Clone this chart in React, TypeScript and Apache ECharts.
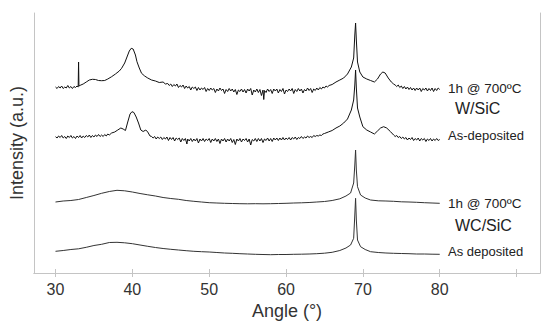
import React, { useEffect, useRef } from "react";
import * as echarts from "echarts";

// [angle (°), intensity (a.u., offset stack)]
const wsicAnnealed: [number, number][] = [
  [30.0, 186], [30.2, 184.5], [30.4, 186.5], [30.6, 185], [30.8, 187], [31.0, 184.5], [31.2, 186],
  [31.4, 185], [31.6, 187.5], [31.8, 185], [32.0, 186.5], [32.2, 184.5], [32.4, 186.5], [32.6, 185.5],
  [32.8, 187], [32.95, 186], [33.0, 211], [33.05, 187], [33.3, 188],
  [33.6, 189], [34.0, 191], [34.4, 193], [34.8, 193.7], [35.2, 193.5], [35.6, 192.5], [36.0, 192.3],
  [36.4, 192.5], [36.8, 194], [37.3, 196.3], [37.8, 199], [38.3, 202], [38.6, 204.7], [39.0, 210],
  [39.3, 216], [39.6, 222], [39.85, 224.7], [40.1, 224], [40.4, 218], [40.6, 211.3], [40.9, 205],
  [41.2, 199.7], [41.6, 197], [42.0, 195], [42.5, 193], [43.0, 192], [43.5, 190.5], [44.0, 191],
  [44.3, 189], [44.6, 189.5], [44.8, 187.5], [45.0, 189], [45.2, 186.5], [45.4, 188.5], [45.6, 187],
  [45.8, 189], [46.0, 185.5], [46.2, 187.5], [46.4, 186], [46.6, 188], [46.8, 184.5], [47.0, 187],
  [47.2, 185], [47.4, 186.5], [47.6, 183], [47.8, 186], [48.0, 184.5], [48.2, 186], [48.4, 182.5],
  [48.6, 185.5], [48.8, 183], [49.0, 185], [49.2, 183.5], [49.4, 185.5], [49.6, 181.5], [49.8, 184.5],
  [50.0, 182.5], [50.2, 185], [50.4, 183], [50.6, 184.5], [50.8, 180.5], [51.0, 184], [51.2, 182],
  [51.4, 185], [51.6, 182.5], [51.8, 184], [52.0, 179.5], [52.2, 183.5], [52.4, 181.5], [52.6, 184.5],
  [52.8, 182], [53.0, 184], [53.2, 181], [53.4, 183.5], [53.6, 178.5], [53.8, 183], [54.0, 181.5],
  [54.2, 184], [54.4, 181], [54.6, 183.5], [54.8, 180], [55.0, 184], [55.2, 182], [55.4, 184.5],
  [55.6, 178], [55.8, 183], [56.0, 181], [56.2, 184], [56.4, 180.5], [56.6, 183.5], [56.8, 177.5],
  [57.0, 183], [57.1, 173.5], [57.2, 182.5], [57.4, 180.5], [57.6, 184], [57.8, 181.5], [58.0, 183.5],
  [58.2, 179.5], [58.4, 184], [58.6, 182], [58.8, 184], [59.0, 180], [59.2, 183.5], [59.4, 181.5],
  [59.6, 184.5], [59.8, 179], [60.0, 183], [60.2, 181.5], [60.4, 184], [60.6, 182], [60.8, 184.5],
  [61.0, 179.5], [61.2, 183.5], [61.4, 181.5], [61.6, 184.5], [61.8, 182], [62.0, 184], [62.2, 180],
  [62.4, 183.5], [62.6, 182], [62.8, 185], [63.0, 182.5], [63.2, 184.5], [63.4, 180.5], [63.6, 184],
  [63.8, 182.5], [64.0, 185], [64.2, 183], [64.4, 185.5], [64.6, 184], [64.8, 186], [65.0, 185],
  [65.2, 187], [65.4, 186], [65.6, 187.5], [66.0, 188.5],
  [66.5, 191], [67.0, 193], [67.5, 195], [68.0, 199], [68.5, 206], [68.8, 215], [68.95, 238],
  [69.05, 250], [69.15, 233], [69.3, 211], [69.6, 201], [70.0, 196], [70.5, 194], [71.0, 192.5],
  [71.5, 191], [71.9, 194], [72.3, 199], [72.6, 201], [72.9, 200], [73.3, 195], [73.7, 191],
  [74.0, 189], [74.2, 188], [74.4, 186.5], [74.6, 188], [74.8, 185.5], [75.0, 187], [75.2, 184.5],
  [75.4, 186.5], [75.6, 184], [75.8, 186], [76.0, 183.5], [76.2, 185.5], [76.4, 183], [76.6, 185],
  [76.8, 182.5], [77.0, 185], [77.2, 183], [77.4, 185], [77.6, 181.5], [77.8, 184.5], [78.0, 183],
  [78.2, 185], [78.4, 182], [78.6, 184.5], [78.8, 182.5], [79.0, 185], [79.2, 181.5], [79.4, 184.5],
  [79.6, 182.5], [79.8, 185], [80.0, 183.5],
];

const wsicDeposited: [number, number][] = [
  [30.0, 136.3], [30.2, 135], [30.4, 137], [30.6, 135.5], [30.8, 137.5], [31.0, 135], [31.2, 136.5],
  [31.4, 134.5], [31.6, 137], [31.8, 135.5], [32.0, 137.5], [32.2, 135], [32.4, 136.5], [32.6, 134.5],
  [32.8, 137], [33.0, 135.5], [33.2, 137.5], [33.4, 135], [33.6, 137], [33.8, 135.5], [34.0, 137.5],
  [34.2, 136], [34.4, 138], [34.6, 135.5], [34.8, 137.5], [35.0, 136], [35.2, 138], [35.4, 136.5],
  [35.6, 138.5], [35.8, 136.5], [36.0, 138], [36.2, 136.5], [36.4, 138.5], [36.6, 137], [36.8, 139],
  [37.0, 138], [37.3, 140], [37.7, 141], [38.1, 143],
  [38.5, 145], [38.8, 144], [39.1, 142.5], [39.4, 151], [39.7, 159], [39.95, 161.3], [40.2, 160.5],
  [40.5, 156], [40.8, 150], [41.1, 143], [41.4, 141.5], [41.75, 143], [42.0, 141], [42.3, 137],
  [42.5, 136.5], [42.7, 135], [42.9, 136.5], [43.1, 134], [43.3, 136], [43.5, 134.5], [43.7, 136],
  [43.9, 133.5], [44.1, 135.5], [44.3, 134], [44.5, 136], [44.7, 132.5], [44.9, 135.5], [45.1, 133.5],
  [45.3, 135.5], [45.5, 132], [45.7, 135], [45.9, 133.5], [46.1, 135], [46.3, 131], [46.5, 134.5],
  [46.7, 132.5], [46.9, 134.5], [47.1, 129], [47.2, 134], [47.4, 132], [47.6, 134.5], [47.8, 131.5],
  [48.0, 134], [48.2, 132], [48.4, 134.5], [48.6, 130], [48.8, 134], [49.0, 132], [49.2, 134.5],
  [49.4, 131.5], [49.6, 134], [49.8, 132.5], [50.0, 134.5], [50.2, 130.5], [50.4, 134], [50.6, 132],
  [50.8, 134.5], [51.0, 131.5], [51.2, 134], [51.4, 129.5], [51.6, 134], [51.8, 132], [52.0, 134.5],
  [52.2, 131], [52.4, 134], [52.6, 132], [52.8, 134.5], [53.0, 130.5], [53.2, 133.5], [53.4, 128.5],
  [53.6, 134], [53.8, 132], [54.0, 134.5], [54.2, 131], [54.4, 134], [54.6, 132.5], [54.8, 134.5],
  [55.0, 131], [55.2, 134], [55.4, 128], [55.6, 133.5], [55.8, 132], [56.0, 134.5], [56.2, 131.5],
  [56.4, 134.5], [56.6, 132], [56.8, 134.5], [57.0, 130.5], [57.2, 134], [57.4, 132.5], [57.6, 135],
  [57.8, 132], [58.0, 134.5], [58.2, 131.5], [58.4, 135], [58.6, 133], [58.8, 135], [59.0, 132.5],
  [59.2, 135], [59.4, 133], [59.6, 135.5], [59.8, 133], [60.0, 135], [60.2, 133.5], [60.4, 135.5],
  [60.6, 133], [60.8, 135.5], [61.0, 134], [61.2, 136], [61.4, 133.5], [61.6, 135.5], [61.8, 134.5],
  [62.0, 136.5], [62.2, 134.5], [62.4, 136], [62.6, 135], [62.8, 137], [63.0, 135.5], [63.2, 136.5],
  [63.4, 135.5], [63.6, 137.5], [63.8, 136.5], [64.0, 137.5], [64.2, 137], [64.4, 138], [64.6, 137.5],
  [64.8, 139], [65.0, 139.5], [65.5, 141], [66.0, 142.5], [66.5, 145], [67.0, 147], [67.5, 150],
  [68.0, 154], [68.5, 163], [68.8, 173], [68.95, 188], [69.05, 203], [69.15, 185], [69.3, 165],
  [69.6, 156], [70.0, 146.3], [70.5, 143], [71.0, 141], [71.5, 139], [71.9, 142], [72.3, 145],
  [72.7, 146.3], [73.1, 145], [73.6, 141.3], [74.0, 138], [74.2, 136.5], [74.4, 137.5], [74.6, 135.5],
  [74.8, 136.5], [75.0, 134.5], [75.2, 136], [75.4, 134], [75.6, 135.5], [75.8, 133], [76.0, 135],
  [76.2, 133.5], [76.4, 135.5], [76.6, 132.5], [76.8, 134.5], [77.0, 133], [77.2, 135], [77.4, 132],
  [77.6, 134.5], [77.8, 133], [78.0, 134.5], [78.2, 131.5], [78.4, 134], [78.6, 132.5], [78.8, 134.5],
  [79.0, 132], [79.2, 134], [79.4, 132.5], [79.6, 134.5], [79.8, 132.5], [80.0, 133.5],
];

const wcsicAnnealed: [number, number][] = [
  [30, 71], [31, 72], [32, 72.5], [33, 73.5], [34, 75.5], [35, 77.5], [36, 79.7], [37, 81.5],
  [38, 82.7], [39, 82.2], [40, 81], [41, 79.5], [42, 78.2], [43, 77], [44, 75.5], [45, 74.5],
  [46, 73.7], [47, 72.5], [48, 71.7], [49, 71], [50, 70.3], [51, 70], [52, 69.7], [53, 69.5],
  [54, 69.3], [55, 69.2], [56, 69.3], [57, 69.2], [58, 69.3], [59, 69.5], [60, 69.7], [61, 70],
  [62, 70.2], [63, 70.5], [64, 71], [65, 71.5], [66, 72.5], [67, 74.2], [67.8, 77], [68.4, 80],
  [68.8, 90], [68.95, 108], [69.05, 123], [69.15, 103], [69.3, 86.3], [69.7, 78], [70.3, 75],
  [71.0, 73], [72, 72.2], [73, 72], [74, 71.7], [75, 71.2], [76, 71], [77, 70.7], [78, 70.3],
  [79, 70], [80, 69.7],
];

const wcsicDeposited: [number, number][] = [
  [30, 21.7], [31, 22.5], [32, 23.5], [33, 24.2], [34, 25.7], [35, 27.5], [36, 28.7], [37, 30.5],
  [38, 30.7], [39, 30.2], [40, 29.3], [41, 28], [42, 26.7], [43, 25.5], [44, 24.5], [45, 23.7],
  [46, 23], [47, 22.3], [48, 21.7], [49, 21.3], [50, 21], [51, 20.5], [52, 20], [53, 19.7],
  [54, 19.3], [55, 19], [56, 18.7], [57, 18.5], [58, 18.3], [59, 18.5], [60, 18.5], [61, 18.7],
  [62, 18.8], [63, 19], [64, 19.3], [65, 19.8], [66, 20.7], [67, 22.5], [67.8, 25], [68.4, 28],
  [68.8, 34.7], [68.95, 58], [69.05, 74.7], [69.15, 53], [69.3, 33], [69.7, 26.3], [70.3, 23.5],
  [71.0, 21.3], [72, 20.5], [73, 20], [74, 19.7], [75, 19.5], [76, 19.3], [77, 19], [78, 19],
  [79, 18.8], [80, 18.7],
];

const tickValues = [30, 40, 50, 60, 70, 80, 90];
const labelValues = [30, 40, 50, 60, 70, 80];

const FONT = "'Liberation Sans', Arial, sans-serif";
const AXIS_GRAY = "#c4c4c4";

export default function App() {
  const ref = useRef<HTMLDivElement>(null);
  useEffect(() => {
    if (!ref.current) return;
    const chart = echarts.init(ref.current, undefined, { renderer: "svg" });
    const line = (data: [number, number][], color: string, width: number) => ({
      type: "line",
      data,
      showSymbol: false,
      symbol: "none",
      lineStyle: { color, width },
      xAxisIndex: 0,
      yAxisIndex: 0,
    });
    const labelText = (text: string, left: number, cy: number, size: number) => ({
      type: "text",
      left,
      top: cy - size * 0.6,
      style: { text, font: `${size}px ${FONT}`, fill: "#222" },
    });
    chart.setOption({
      animation: false,
      grid: { left: 31, right: 10, top: 13, bottom: 59 },
      xAxis: [
        {
          type: "value",
          position: "bottom",
          min: 27.2,
          max: 93.05,
          name: "Angle (°)",
          nameLocation: "middle",
          nameGap: 29,
          nameTextStyle: { fontFamily: FONT, fontSize: 18, color: "#333" },
          axisLine: { show: true, lineStyle: { color: AXIS_GRAY, width: 1 } },
          axisTick: { show: true, inside: true, length: 4, customValues: tickValues, lineStyle: { color: AXIS_GRAY } },
          axisLabel: { customValues: labelValues, fontFamily: FONT, fontSize: 16, color: "#333", margin: 8 },
          splitLine: { show: false },
        },
        {
          type: "value",
          position: "top",
          min: 27.2,
          max: 93.05,
          axisLine: { show: true, lineStyle: { color: AXIS_GRAY, width: 1 } },
          axisTick: { show: true, inside: true, length: 4, customValues: tickValues, lineStyle: { color: AXIS_GRAY } },
          axisLabel: { show: false },
          splitLine: { show: false },
        },
      ],
      yAxis: [
        {
          type: "value",
          position: "left",
          min: 0,
          max: 260,
          name: "Intensity (a.u.)",
          nameLocation: "middle",
          nameGap: 8,
          nameTextStyle: { fontFamily: FONT, fontSize: 18, color: "#333" },
          axisLine: { show: true, lineStyle: { color: AXIS_GRAY, width: 1 } },
          axisTick: { show: false },
          axisLabel: { show: false },
          splitLine: { show: false },
        },
        {
          type: "value",
          position: "right",
          min: 0,
          max: 260,
          axisLine: { show: true, lineStyle: { color: AXIS_GRAY, width: 1 } },
          axisTick: { show: false },
          axisLabel: { show: false },
          splitLine: { show: false },
        },
      ],
      series: [
        line(wsicAnnealed, "#111", 1),
        line(wsicDeposited, "#111", 1),
        line(wcsicAnnealed, "#333", 1),
        line(wcsicDeposited, "#333", 1),
      ],
      graphic: [
        labelText("1h @ 700ºC", 448, 90, 13.5),
        labelText("W/SiC", 455, 110.5, 16),
        labelText("As-deposited", 448, 136.5, 13),
        labelText("1h @ 700ºC", 448, 205, 13.5),
        labelText("WC/SiC", 455, 227, 16),
        labelText("As deposited", 448, 253, 13),
      ],
    });
    return () => chart.dispose();
  }, []);
  return (
    <div
      ref={ref}
      style={{ position: "fixed", left: 0, top: 0, width: 550, height: 332, background: "#fff" }}
    />
  );
}
